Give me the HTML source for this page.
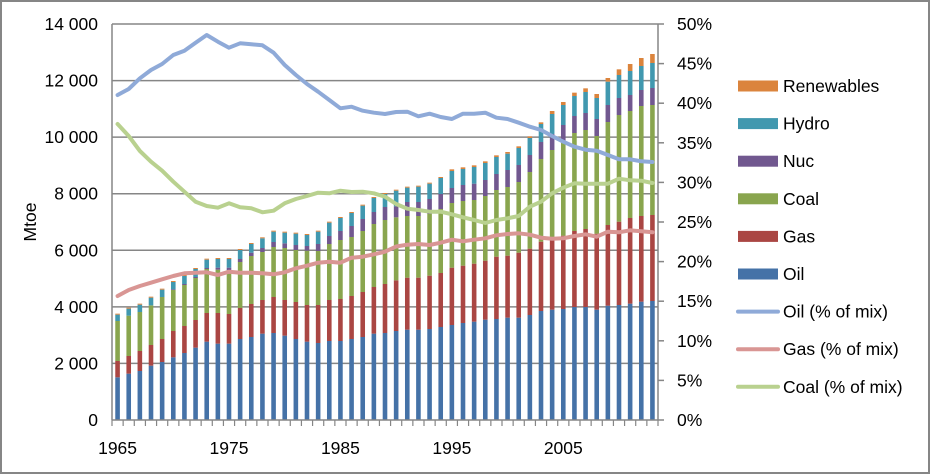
<!DOCTYPE html>
<html><head><meta charset="utf-8"><style>
body{margin:0;background:#fff}
svg{display:block;font-family:"Liberation Sans",sans-serif}
</style></head><body>
<svg id="c" width="930" height="474" xmlns="http://www.w3.org/2000/svg">
<rect x="1" y="1" width="928" height="472" fill="#fff" stroke="#868686" stroke-width="2"/>
<g id="grid"></g><g id="bars"></g><g id="lines"></g><g id="axes"></g>
</svg>
<script>
var NS="http://www.w3.org/2000/svg";
function el(p,t,a,txt){var e=document.createElementNS(NS,t);for(var k in a)e.setAttribute(k,a[k]);if(txt!==undefined)e.textContent=txt;document.getElementById(p).appendChild(e);return e;}
var L=112,R=658,B=420,T=24,pxk=(B-T)/14,FS="17.5";
var lab=["0","2 000","4 000","6 000","8 000","10 000","12 000","14 000"];
for(var i=0;i<=7;i++){var y=B-i*2*pxk;if(i>0)el("grid","line",{x1:L,x2:R,y1:y,y2:y,stroke:"#868686","stroke-width":1.5});
el("axes","text",{x:98,y:y+6,"text-anchor":"end","font-size":FS,fill:"#000"},lab[i]);}
for(var i=0;i<=10;i++){var y=B-i*(B-T)/10;el("axes","line",{x1:R,x2:R+6,y1:y,y2:y,stroke:"#868686","stroke-width":1.5});
el("axes","text",{x:677,y:y+6,"font-size":FS,fill:"#000"},(i*5)+"%");}
el("axes","text",{x:36,y:222,"text-anchor":"middle","font-size":FS,transform:"rotate(-90 36 222)"},"Mtoe");
var cw=(R-L)/49;
for(var i=0;i<=49;i++){var x=L+i*cw;el("axes","line",{x1:x,x2:x,y1:B,y2:B+6,stroke:"#868686","stroke-width":1.2});}
el("axes","line",{x1:L,x2:L,y1:T,y2:B,stroke:"#868686","stroke-width":1.5});
el("axes","line",{x1:R,x2:R,y1:T,y2:B,stroke:"#868686","stroke-width":1.5});
el("axes","line",{x1:L,x2:R,y1:B,y2:B,stroke:"#868686","stroke-width":1.5});
[1965,1975,1985,1995,2005].forEach(function(yr){var i=yr-1965;el("axes","text",{x:L+cw*(i+0.5),y:454,"text-anchor":"middle","font-size":FS},yr);});
var D=[[1072,1023,903,903,884],[1061,1008,887,887,866],[1053,993,876,876,854],[1037,975,856,856,833],[1026,957,831,831,809],[1012,933,810,808,786],[999,918,795,792,768],[983,900,774,771,747],[965,879,747,744,719],[971,879,749,743,717],[971,882,750,743,717],[957,864,726,717,690],[951,852,708,698,672],[941,840,696,684,655],[939,831,681,666,635],[947,840,684,670,638],[957,846,690,675,641],[965,855,692,678,645],[969,855,693,672,635],[963,840,672,648,608],[963,837,660,633,594],[957,828,651,618,579],[951,816,633,597,557],[941,801,612,576,534],[939,792,600,561,522],[933,781,592,559,512],[929,773,588,546,503],[929,773,588,546,500],[927,767,582,537,491],[921,759,567,522,474],[915,743,549,504,453],[909,737,543,495,447],[905,731,540,491,441],[899,722,528,480,429],[897,710,510,462,411],[893,707,501,450,401],[893,698,486,435,384],[885,686,456,405,354],[873,665,417,366,312],[869,656,390,342,282],[867,647,363,315,255],[861,633,339,288,228],[861,627,330,279,216],[869,641,348,297,234],[857,615,306,255,185],[855,605,285,234,165],[851,594,273,225,153],[845,588,258,210,138],[843,585,255,204,129]];
var RN={39:273,40:246,41:218,42:205,43:222,44:174,45:148,46:132,47:114,48:102};
var cols=["#4572a7","#aa4643","#89a54e","#71588f","#4198af","#db843d"];
var bw=4.6;
D.forEach(function(d,i){var x=L+cw*(i+0.5)-bw/2;var tops=d.slice();tops.push(RN[i]!==undefined?RN[i]:d[4]-(i<30?3:5));
var prev=B;for(var k=0;k<6;k++){var y=20+tops[k]/3;if(prev-y>0)el("bars","rect",{x:x,y:y,width:bw,height:prev-y,fill:cols[k]});prev=y;}});
var oil=[95,89,78.3,70,64,55,50.7,42.7,35,41.7,47.7,43.3,44.3,45.3,52.7,65,75,84,91.7,100,108.3,106.7,110.7,112.7,114,112,111.7,116.3,113.7,117,119,113.7,113.7,112.7,117.7,119,122.7,126.7,130,136,141.7,146.7,149.7,150.7,155,159.3,159.3,161.3,162];
var gas=[296,290,286,282.7,279.3,276,273.3,272.7,272.3,275,271.7,272.7,272.7,273.3,274.3,272.3,268.3,265.7,262.7,261.7,262.7,257.7,256.7,254.3,251.7,246.5,244.7,244,245,242.7,239.7,241.3,239.7,238.3,235.3,234,233.3,234.7,237.7,238.7,238.3,236,234.3,236.7,231.7,232.3,230.3,231.3,232.3];
var coal=[124,136,151,161.7,170.7,181.7,191.7,201.7,206,207.7,203.3,207.3,208.3,212.3,210.7,203.3,199,196,192.7,193.3,190.7,192,191.7,193.3,196.7,204,208.7,210,211.7,211.7,214.3,217.3,220,223,220,218.3,216,206.7,201.7,193.3,187.7,183.3,183.7,183.7,183.7,178.7,180.3,180.7,183];
[[oil,"#8faad8"],[gas,"#d99694"],[coal,"#b9d18f"]].forEach(function(s){var p=s[0].map(function(y,i){return (L+cw*(i+0.5)).toFixed(1)+","+y;}).join(" ");
el("lines","polyline",{points:p,fill:"none",stroke:s[1],"stroke-width":4,"stroke-linejoin":"round","stroke-linecap":"round"});});
var names=["Renewables","Hydro","Nuc","Coal","Gas","Oil"];var lc=["#db843d","#4198af","#71588f","#89a54e","#aa4643","#4572a7"];
for(var i=0;i<6;i++){var y=86+i*37.6;el("axes","rect",{x:738,y:y-5.5,width:40,height:11,fill:lc[i]});el("axes","text",{x:783,y:y+6,"font-size":FS},names[i]);}
var ln=["Oil (% of mix)","Gas (% of mix)","Coal (% of mix)"],lcol=["#8faad8","#d99694","#b9d18f"];
for(var i=0;i<3;i++){var y=311.6+i*37.6;el("axes","line",{x1:738,x2:778,y1:y,y2:y,stroke:lcol[i],"stroke-width":4,"stroke-linecap":"round"});el("axes","text",{x:783,y:y+6,"font-size":FS},ln[i]);}
</script>
</body></html>
